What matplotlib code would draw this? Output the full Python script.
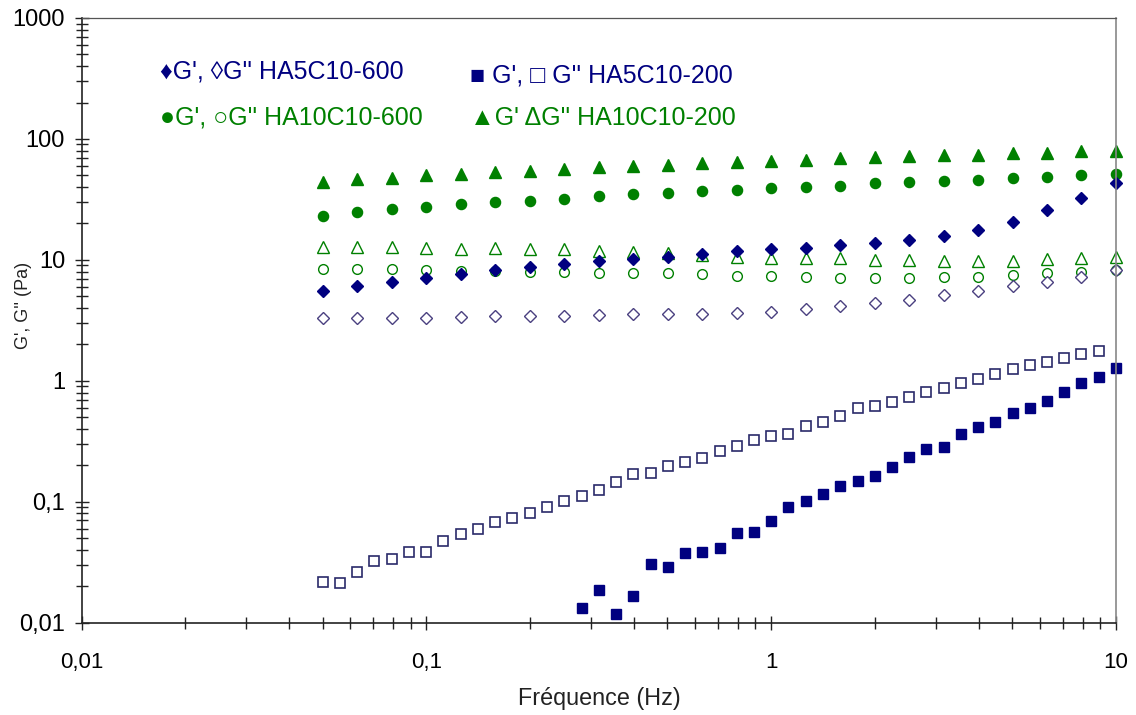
import matplotlib
matplotlib.use("Agg")
import matplotlib.pyplot as plt
from matplotlib.ticker import LogLocator, FuncFormatter, NullFormatter

plt.rcParams['font.family'] = ['Liberation Sans', 'DejaVu Sans']

# Frequencies (Hz)
freq_fine = [0.05, 0.0561, 0.0629, 0.0706, 0.0792, 0.0889, 0.0998, 0.112, 0.126, 0.141,
             0.158, 0.177, 0.199, 0.224, 0.251, 0.282, 0.316, 0.355, 0.398, 0.447,
             0.501, 0.562, 0.631, 0.708, 0.794, 0.891, 1.0, 1.12, 1.26, 1.41,
             1.58, 1.78, 2.0, 2.24, 2.51, 2.82, 3.16, 3.55, 3.98, 4.47,
             5.01, 5.62, 6.31, 7.08, 7.94, 8.91, 10.0]
freq_coarse = [0.05, 0.0629, 0.0792, 0.0998, 0.126, 0.158, 0.199, 0.251, 0.316, 0.398,
               0.501, 0.631, 0.794, 1.0, 1.26, 1.58, 2.0, 2.51, 3.16, 3.98,
               5.01, 6.31, 7.94, 10.0]

# HA5C10-600
ha5_600_Gp = [5.54, 6.10, 6.62, 7.14, 7.71, 8.22, 8.70, 9.31, 9.75, 10.2, 10.6, 11.1,
              11.9, 12.4, 12.6, 13.2, 13.9, 14.6, 15.7, 17.6, 20.7, 25.8, 32.4, 43.6]
ha5_600_Gpp = [3.33, 3.33, 3.33, 3.33, 3.38, 3.44, 3.46, 3.46, 3.51, 3.57, 3.57, 3.60,
               3.67, 3.74, 3.93, 4.16, 4.43, 4.67, 5.13, 5.51, 6.06, 6.62, 7.28, 8.27]

# HA10C10-600
ha10_600_Gp = [23.1, 24.8, 26.1, 27.3, 28.9, 30.2, 30.8, 32.1, 33.8, 34.9, 35.6, 37.4,
               37.9, 39.2, 39.9, 40.7, 43.1, 43.9, 45.0, 45.9, 47.4, 48.6, 50.5, 51.7]
ha10_600_Gpp = [8.38, 8.38, 8.38, 8.27, 8.11, 8.11, 7.96, 7.96, 7.76, 7.76, 7.76, 7.66,
                7.41, 7.41, 7.28, 7.10, 7.10, 7.10, 7.23, 7.28, 7.51, 7.76, 8.00, 8.27]

# HA10C10-200
ha10_200_Gp = [43.9, 46.5, 47.4, 50.5, 51.2, 53.1, 54.5, 56.2, 59.1, 60.3, 61.4, 63.1,
               64.3, 65.5, 67.1, 69.3, 71.1, 72.4, 74.3, 74.3, 76.3, 77.2, 79.3, 79.3]
ha10_200_Gpp = [12.7, 12.9, 12.7, 12.5, 12.4, 12.5, 12.3, 12.3, 11.9, 11.7, 11.4, 10.9,
                10.5, 10.3, 10.3, 10.3, 10.05, 10.05, 9.87, 9.87, 9.87, 10.1, 10.3, 10.5]

# HA5C10-200 (fine frequency grid)
ha5_200_Gpp = [0.0216, 0.0212, 0.0263, 0.0326, 0.0338, 0.0385, 0.0385, 0.0477, 0.0538, 0.0592,
               0.0681, 0.0730, 0.0803, 0.0906, 0.102, 0.112, 0.126, 0.146, 0.169, 0.172,
               0.199, 0.213, 0.229, 0.263,
               0.291, 0.323, 0.352, 0.366, 0.426, 0.457, 0.515, 0.593, 0.620, 0.669,
               0.736, 0.809, 0.869, 0.955, 1.03, 1.13, 1.25, 1.34, 1.43, 1.54, 1.66, 1.78]
ha5_200_Gp_start = 15
ha5_200_Gp = [0.0132, 0.0185, 0.0117, 0.0167, 0.0304, 0.0289, 0.0377, 0.0387, 0.0412,
              0.0549, 0.0563, 0.0698, 0.0900, 0.102, 0.115, 0.136, 0.149, 0.164, 0.194,
              0.235, 0.272, 0.284, 0.362, 0.415, 0.457, 0.540, 0.593, 0.686, 0.809,
              0.955, 1.07, 1.27]

legend_texts = ["\u2666G', \u25caG'' HA5C10-600", "\u25a0 G', \u25a1 G'' HA5C10-200",
                "\u25cfG', \u25cbG'' HA10C10-600", "\u25b2G' \u0394G'' HA10C10-200"]
x_ticks = [0.01, 0.1, 1, 10]
y_ticks = [0.01, 0.1, 1, 10, 100, 1000]

NAVY = '#000080'
GREEN = '#008000'
W, H = 1136, 715

fig = plt.figure(figsize=(W / 100, H / 100), dpi=100)
ax = fig.add_axes([81.7 / W, 1 - 622.7 / H, (1116 - 81.7) / W, (622.7 - 18) / H])

ax.set_xscale('log')
ax.set_yscale('log')
ax.set_xlim(0.01, 10)
ax.set_ylim(0.01, 1000)

kw = dict(linestyle='none', clip_on=False)
ax.plot(freq_coarse, ha10_200_Gpp, marker='^', ms=8.3, mfc='white', mec=GREEN, mew=1.0, **kw)
ax.plot(freq_coarse, ha10_600_Gpp, marker='o', ms=7, mfc='white', mec=GREEN, mew=1.0, **kw)
ax.plot(freq_coarse, ha5_600_Gpp, marker='D', ms=6.2, mfc='white', mec='#4a4080', mew=1.0, **kw)
ax.plot(freq_coarse, ha10_200_Gp, marker='^', ms=9, mfc=GREEN, mec=GREEN, **kw)
ax.plot(freq_coarse, ha10_600_Gp, marker='o', ms=7.3, mfc=GREEN, mec=GREEN, **kw)
ax.plot(freq_coarse, ha5_600_Gp, marker='D', ms=6.5, mfc=NAVY, mec=NAVY, **kw)
ax.plot(freq_fine[:len(ha5_200_Gpp)], ha5_200_Gpp, marker='s', ms=6.6, mfc='white',
        mec='#2a2a6a', mew=1.2, **kw)
ax.plot(freq_fine[ha5_200_Gp_start:ha5_200_Gp_start + len(ha5_200_Gp)], ha5_200_Gp,
        marker='s', ms=7, mfc=NAVY, mec=NAVY, **kw)

fmt = FuncFormatter(lambda v, p: ('%g' % v).replace('.', ','))
ax.xaxis.set_major_locator(plt.FixedLocator(x_ticks))
ax.yaxis.set_major_locator(plt.FixedLocator(y_ticks))
ax.xaxis.set_major_formatter(fmt)
ax.yaxis.set_major_formatter(fmt)
ax.xaxis.set_minor_locator(LogLocator(base=10, subs=range(2, 10), numticks=20))
ax.yaxis.set_minor_locator(LogLocator(base=10, subs=range(2, 10), numticks=20))
ax.xaxis.set_minor_formatter(NullFormatter())
ax.yaxis.set_minor_formatter(NullFormatter())

ax.tick_params(axis='both', which='major', direction='inout', length=10, width=1.0, color='#222222')
ax.tick_params(axis='both', which='minor', direction='inout', length=8, width=1.0, color='#222222')
ax.tick_params(axis='y', which='major', labelsize=17, pad=7)
ax.tick_params(axis='x', which='major', labelsize=16, pad=16)

for s in ['left', 'bottom']:
    ax.spines[s].set_color('#222222')
    ax.spines[s].set_linewidth(1.2)
ax.spines['top'].set_color('#555555')
ax.spines['top'].set_linewidth(0.9)
ax.spines['right'].set_color('#888888')
ax.spines['right'].set_linewidth(1.2)

fig.text(599 / W, 1 - 698 / H, 'Fréquence (Hz)', ha='center', va='center', fontsize=16.8,
         color='#222222')
fig.text(24 / W, 1 - 305 / H, "G', G'' (Pa)", ha='center', va='center', rotation=90,
         fontsize=13, color='#222222')

legend_pos = [(160, 72), (470, 75), (160, 117), (470, 118)]
legend_cols = [NAVY, NAVY, GREEN, GREEN]
for (lx, ly), t, c in zip(legend_pos, legend_texts, legend_cols):
    fig.text(lx / W, 1 - ly / H, t, ha='left', va='center', fontsize=18, color=c)

fig.savefig('out.png', dpi=100, facecolor='white')
